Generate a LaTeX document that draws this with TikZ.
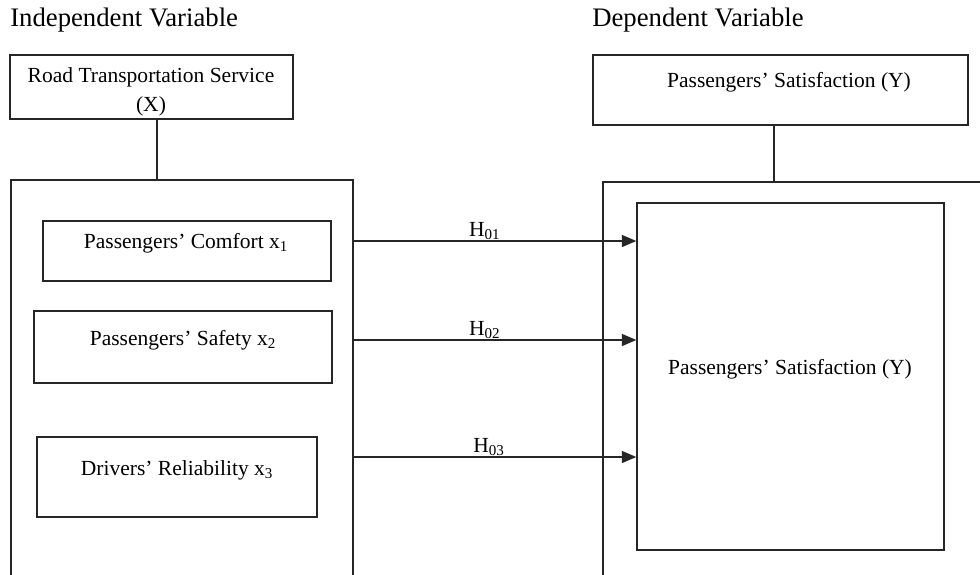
\documentclass[tikz,border=0pt]{standalone}
\usepackage{fontspec}
\setmainfont{Liberation Serif}
\usetikzlibrary{arrows.meta, positioning}
\tikzset{
  frm/.style={rectangle, draw=black!85, line width=1pt, inner sep=0pt},
  sz/.style 2 args={minimum width=#1*0.025cm, minimum height=#2*0.025cm},
  txt/.style={font=\fontsize{15.3}{19}\selectfont, inner sep=0pt, align=center},
  hdr/.style={font=\fontsize{19}{22}\selectfont, inner sep=0pt, anchor=west},
  link/.style={line width=1pt, draw=black!85},
  pipe/.style={link, -{Triangle[length=3.6mm, width=3mm]}},
  hyp/.style={font=\fontsize{15.3}{18}\selectfont, above, inner sep=0.5pt},
}
\begin{document}
\begin{tikzpicture}[x=0.025cm, y=-0.025cm]
  \useasboundingbox (0,0) rectangle (980,574);
  \clip (0,0) rectangle (980,574);
  \node[hdr] (ivlbl) at (10,20)  {Independent Variable};
  \node[hdr] (dvlbl) at (592,20) {Dependent Variable};
  % upper boxes
  \node[frm, sz={283}{64}] (rts) at (151.5,87) {};
  \node[txt] (rtst) at (151,92) {Road Transportation Service\\[2pt](X)};
  \node[frm, sz={375}{70}] (ps) at (780.5,90) {};
  \node[txt] (pst) at (789,82) {Passengers' Satisfaction (Y)};
  % outer frames
  \node[frm, sz={342}{440}] (ivbox) at (182,400) {};
  \node[frm, sz={407}{440}] (dvbox) at (806.5,402) {};
  % variables
  \node[frm, sz={288}{60}] (c1) at (187,251) {};
  \node[txt] (c1t) at (186,243) {Passengers' Comfort x\textsubscript{1}};
  \node[frm, sz={298}{72}] (c2) at (183,347) {};
  \node[txt] (c2t) at (183,340) {Passengers' Safety x\textsubscript{2}};
  \node[frm, sz={280}{80}] (c3) at (177,477) {};
  \node[txt] (c3t) at (177,470) {Drivers' Reliability x\textsubscript{3}};
  \node[frm, sz={307}{347}] (sat) at (790.5,376.5) {};
  \node[txt] (satt) at (790,369) {Passengers' Satisfaction (Y)};
  \coordinate (h1) at (353,241);
  \coordinate (h2) at (353,340);
  \coordinate (h3) at (353,457);
  \draw[link] ([xshift=4pt]rts.south) -- ([xshift=4pt]rts.south |- ivbox.north);
  \draw[link] ([xshift=-4.6pt]ps.south) -- ([xshift=-4.6pt]ps.south |- dvbox.north);
  \draw[pipe] (h1) -- (h1 -| sat.west) node[hyp, pos=0.465] {H\textsubscript{01}};
  \draw[pipe] (h2) -- (h2 -| sat.west) node[hyp, pos=0.465] {H\textsubscript{02}};
  \draw[pipe] (h3) -- (h3 -| sat.west) node[hyp, pos=0.48] {H\textsubscript{03}};
\end{tikzpicture}
\end{document}
